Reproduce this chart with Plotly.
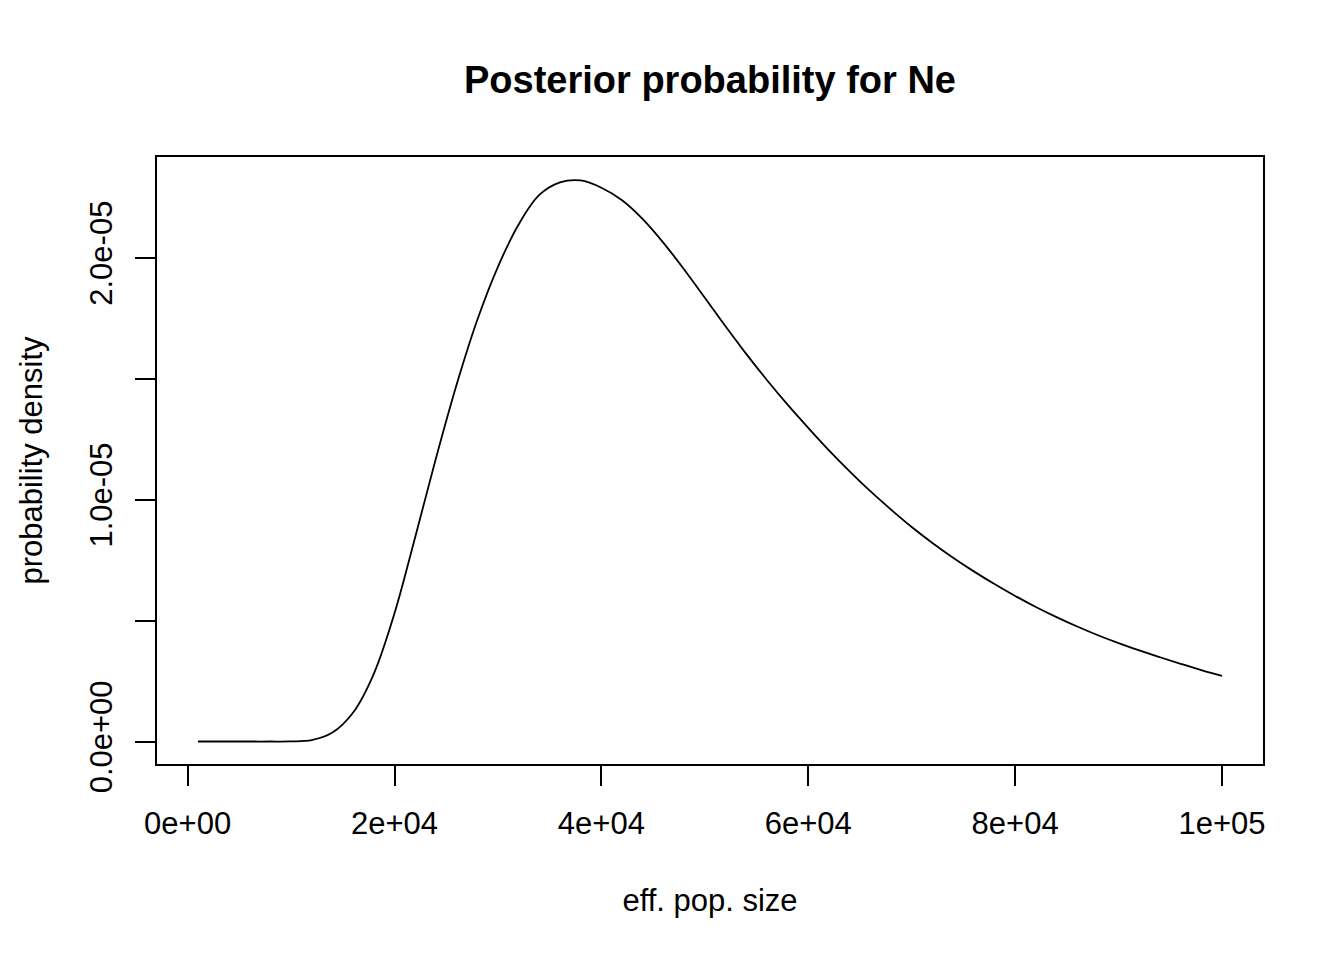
import plotly.graph_objects as go

# Effective population size (x) and posterior density (y, units of 1e-6)
ne_values = [1000, 4000, 6000, 8000, 10000, 12000, 14000, 16000, 18000, 20000,
             22000, 24000, 26000, 28000, 30000, 32000, 34000, 36000, 38000, 40000,
             42000, 44000, 46000, 48000, 50000, 52000, 54000, 56000, 58000, 60000,
             62000, 64000, 66000, 68000, 70000, 72000, 74000, 76000, 78000, 80000,
             82000, 84000, 86000, 88000, 90000, 92000, 94000, 96000, 98000, 100000]
density_e6 = [0.0, 0.0, 0.0, 0.0, 0.005, 0.06, 0.37, 1.2, 2.8, 5.3,
              8.45, 11.7, 14.75, 17.43, 19.63, 21.38, 22.6, 23.12, 23.2, 22.9,
              22.38, 21.6, 20.62, 19.52, 18.35, 17.17, 16.03, 14.95, 13.93, 12.97,
              12.04, 11.17, 10.35, 9.59, 8.87, 8.21, 7.6, 7.035, 6.51, 6.02,
              5.565, 5.145, 4.755, 4.395, 4.07, 3.77, 3.485, 3.215, 2.955, 2.71]
density = [v * 1e-6 for v in density_e6]

x_tickvals = [0, 20000, 40000, 60000, 80000, 100000]
x_ticktext = ["0e+00", "2e+04", "4e+04", "6e+04", "8e+04", "1e+05"]
y_tickvals = [0, 5e-6, 1e-5, 1.5e-5, 2e-5]
y_ticktext = ["0.0e+00", "", "1.0e-05", "", "2.0e-05"]

FONT = "Liberation Sans, Arial, Helvetica, sans-serif"

fig = go.Figure()
fig.add_trace(go.Scatter(x=ne_values, y=density, mode="lines",
                         line=dict(color="black", width=1.8, shape="spline", smoothing=1.0),
                         showlegend=False, hoverinfo="skip"))

xmin, xmax = min(ne_values), max(ne_values)
xpad = 0.04 * (xmax - xmin)
ymax = 23.24e-6
ypad = 0.04 * ymax

fig.update_layout(
    width=1344, height=960,
    margin=dict(l=149, r=89, t=149, b=204),
    paper_bgcolor="white", plot_bgcolor="white",
    font=dict(family=FONT, size=31, color="black"),
    title=dict(text="<b>Posterior probability for Ne</b>", x=(149 + 1255) / 2 / 1344,
               xanchor="center", y=1 - 72 / 960, yanchor="middle", yref="container",
               font=dict(family=FONT, size=38, color="black")),
    xaxis=dict(range=[xmin - xpad, xmax + xpad], tickvals=x_tickvals, ticktext=x_ticktext,
               ticks="outside", ticklen=20, tickwidth=1.5, tickcolor="black",
               showline=True, linecolor="black", linewidth=1.6, mirror=True,
               showgrid=False, zeroline=False, ticklabelstandoff=11,
               title=dict(text="eff. pop. size", standoff=49,
                          font=dict(family=FONT, size=31))),
    yaxis=dict(range=[-ypad, ymax + ypad], tickvals=y_tickvals, ticktext=y_ticktext,
               ticks="outside", ticklen=20, tickwidth=1.5, tickcolor="black",
               showline=True, linecolor="black", linewidth=1.6, mirror=True,
               showgrid=False, zeroline=False, tickangle=-90, ticklabelstandoff=11,
               title=dict(text="probability density", standoff=32,
                          font=dict(family=FONT, size=31))),
)

fig.write_html("out.html")
